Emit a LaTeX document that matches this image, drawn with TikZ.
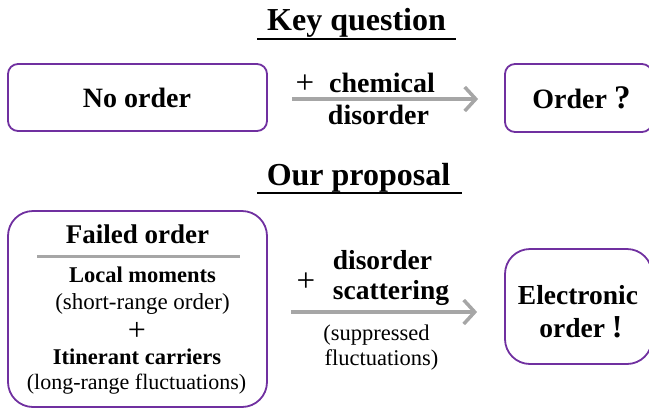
\documentclass[tikz,border=0pt]{standalone}
\usepackage{fontspec}
\setmainfont{Liberation Serif}
\usetikzlibrary{arrows.meta}
\definecolor{boxpurple}{HTML}{7030A0}
\definecolor{arrgray}{HTML}{A6A6A6}
\newcommand{\myfs}[1]{\fontsize{#1}{#1}\selectfont}
\begin{document}
\begin{tikzpicture}[x=1pt,y=-1pt,
  box/.style={draw=boxpurple,line width=1.8pt,inner sep=0pt},
  txt/.style={anchor=base,inner sep=0pt,outer sep=0pt},
  arr/.style={draw=arrgray,line width=3.5pt,-{Straight Barb[length=11pt,width=24pt]}},
  uline/.style={line width=2.5pt},
  sepline/.style={draw=arrgray,line width=3pt}
]
\useasboundingbox (0,0) rectangle (649,408);

% titles
\node[txt,font=\bfseries\myfs{32}] (kq) at (356.5,30) {Key question};
\draw[uline] (257,39) -- (456,39);
\node[txt,font=\bfseries\myfs{32}] (op) at (358.5,185) {Our proposal};
\draw[uline] (257,193) -- (462,193);

% top row
\node[box,rounded corners=10pt,minimum width=259pt,minimum height=67pt] (no) at (137.5,97.5) {};
\node[txt,font=\bfseries\myfs{28}] (notxt) at (137,107) {No order};
\node[box,rounded corners=10pt,minimum width=147pt,minimum height=68pt] (or) at (578.5,98) {};
\node[txt,font=\bfseries\myfs{28}] (ortxt) at (581.5,108) {Order {\myfs{33}?}};
\draw[arr] ([shift={(24,1.5)}]no.east) -- ([shift={(-26,1)}]or.west);
\node[txt,font=\myfs{33}] (p1) at (305,93) {+};
\node[txt,font=\bfseries\myfs{28}] (chem) at (382,92) {chemical};
\node[txt,font=\bfseries\myfs{28}] (dis1) at (378.5,124) {disorder};

% bottom row
\node[box,rounded corners=25pt,minimum width=259pt,minimum height=196pt] (fo) at (137.5,309) {};
\node[txt,font=\bfseries\myfs{27}] (fotxt) at (137.5,243) {Failed order};
\draw[sepline] (37,256) -- (240,256);
\node[txt,font=\bfseries\myfs{22.5}] (lm) at (142.5,282) {Local moments};
\node[txt,font=\myfs{23}] (sr) at (142.5,309) {(short-range order)};
\node[txt,font=\myfs{32}] (p2) at (137,340) {+};
\node[txt,font=\bfseries\myfs{22.5}] (ic) at (137,364) {Itinerant carriers};
\node[txt,font=\myfs{22}] (lr) at (136.5,389) {(long-range fluctuations)};

\node[box,rounded corners=25pt,minimum width=147pt,minimum height=115pt] (eo) at (578.5,306.5) {};
\node[txt,font=\bfseries\myfs{27.5}] (el) at (578,304) {Electronic};
\node[txt,font=\bfseries\myfs{27.5}] (ord) at (581,337) {order {\myfs{32}!}};

\draw[arr] ([shift={(23,3)}]fo.east) -- ([shift={(-27,5.5)}]eo.west);
\node[txt,font=\myfs{33}] (p3) at (306,291) {+};
\node[txt,font=\bfseries\myfs{27.5}] (dis2) at (382.5,269) {disorder};
\node[txt,font=\bfseries\myfs{27.5}] (sc) at (391,299) {scattering};
\node[txt,font=\myfs{22.5}] (sup) at (376.5,340) {(suppressed};
\node[txt,font=\myfs{22.5}] (fl) at (381.5,365) {fluctuations)};
\end{tikzpicture}
\end{document}
